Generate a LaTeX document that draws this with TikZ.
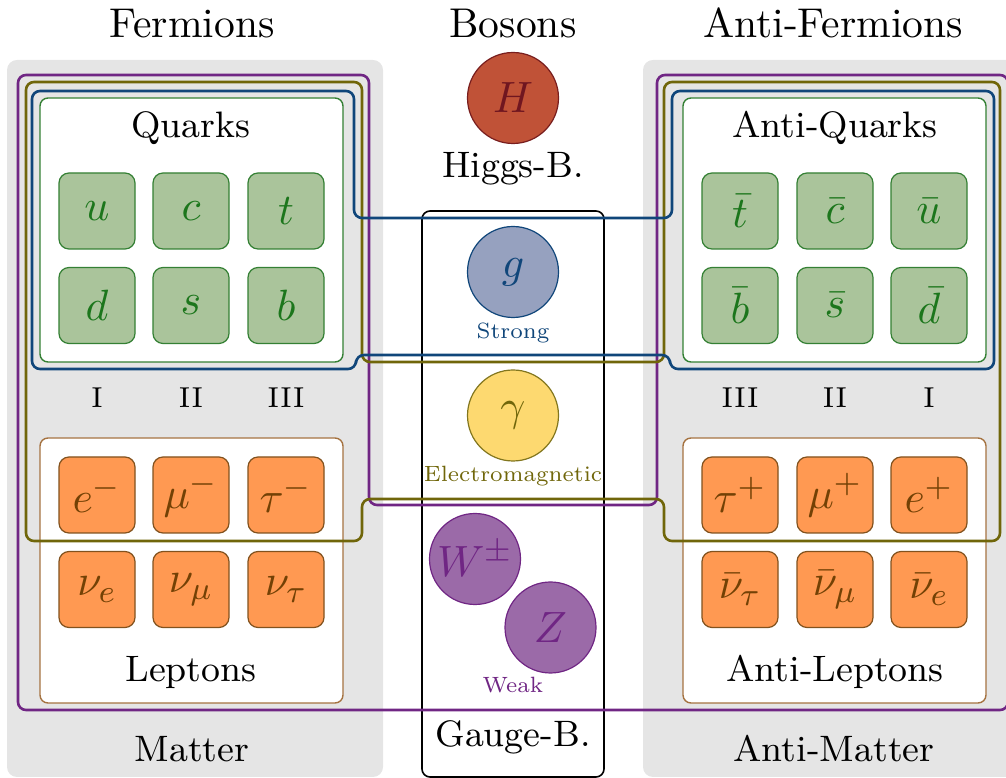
\documentclass[tikz,border=0pt]{standalone}
\usepackage{fontspec}

\definecolor{panelgray}{RGB}{229,229,229}
\definecolor{quarkfill}{RGB}{170,196,155}
\definecolor{quarkline}{RGB}{52,128,52}
\definecolor{quarktext}{RGB}{28,118,28}
\definecolor{leptonfill}{RGB}{255,153,82}
\definecolor{leptonline}{RGB}{130,82,30}
\definecolor{leptontext}{RGB}{115,65,5}
\definecolor{leptonframe}{RGB}{165,115,65}
\definecolor{higgsfill}{RGB}{192,82,55}
\definecolor{higgsline}{RGB}{120,30,30}
\definecolor{higgstext}{RGB}{112,22,32}
\definecolor{strongfill}{RGB}{150,161,191}
\definecolor{strongcol}{RGB}{16,70,122}
\definecolor{emfill}{RGB}{253,217,112}
\definecolor{emline}{RGB}{130,118,30}
\definecolor{emcol}{RGB}{112,102,10}
\definecolor{weakfill}{RGB}{155,106,168}
\definecolor{weakcol}{RGB}{112,38,132}

\tikzset{
  panel/.style={fill=panelgray, rounded corners=2.5pt},
  groupbox/.style={fill=white, rounded corners=2pt, line width=0.35pt},
  quarkgroup/.style={groupbox, draw=quarkline},
  leptongroup/.style={groupbox, draw=leptonframe},
  gaugegroup/.style={rounded corners=2pt, line width=0.4pt, draw=black},
  particle/.style={rectangle, rounded corners=2.5pt, minimum size=19pt,
    inner sep=0pt, line width=0.3pt, font=\fontsize{11}{13}\selectfont},
  quark/.style={particle, fill=quarkfill, draw=quarkline, text=quarktext},
  lepton/.style={particle, fill=leptonfill, draw=leptonline, text=leptontext},
  boson/.style={circle, minimum size=22.75pt, inner sep=0pt, line width=0.3pt,
    font=\fontsize{11}{13}\selectfont},
  headtxt/.style={anchor=base, inner sep=0pt, font=\fontsize{10.4}{12}\selectfont},
  grouptxt/.style={anchor=base, inner sep=0pt, font=\fontsize{9.2}{11}\selectfont},
  gentxt/.style={anchor=base, inner sep=0pt, font=\fontsize{7.2}{9}\selectfont},
  forcetxt/.style={anchor=base, inner sep=0pt, scale=0.79, font=\fontsize{7}{8}\selectfont},
  bandline/.style={line width=0.65pt, rounded corners=2pt},
}

\begin{document}
\begin{tikzpicture}[x=0.25pt, y=-0.25pt]
\useasboundingbox (0,0) rectangle (1006,778);

% grey background panels
\fill[panel] (7,60) rectangle (383,777);
\fill[panel] (643,60) rectangle (1019,777);

% column headings
\node[headtxt] (fermions) at (192,38) {Fermions};
\node[headtxt] (bosons) at (513,38) {Bosons};
\node[headtxt] (antifermions) at (833,38) {Anti-Fermions};

% group boxes
\draw[quarkgroup] (40,98) rectangle (343,362);
\draw[quarkgroup] (683,98) rectangle (986,362);
\draw[leptongroup] (40,438) rectangle (343,703);
\draw[leptongroup] (683,438) rectangle (986,703);
\draw[gaugegroup] (422,211) rectangle (604,777);

% group names
\node[grouptxt] (quarks) at (191,138) {Quarks};
\node[grouptxt] (antiquarks) at (835,138) {Anti-Quarks};
\node[grouptxt] (leptons) at (191,682) {Leptons};
\node[grouptxt] (antileptons) at (835,682) {Anti-Leptons};
\node[grouptxt] (matter) at (192,761) {Matter};
\node[grouptxt] (antimatter) at (834,761) {Anti-Matter};
\node[grouptxt] (higgsname) at (513,178) {Higgs-B.};
\node[grouptxt] (gaugename) at (513,747) {Gauge-B.};

% generations
\node[gentxt] (g1) at (97,408) {I};
\node[gentxt] (g2) at (191,408) {II};
\node[gentxt] (g3) at (286,408) {III};
\node[gentxt] (ag3) at (740,408) {III};
\node[gentxt] (ag2) at (835,408) {II};
\node[gentxt] (ag1) at (929,408) {I};

% quarks
\node[quark] (u) at (97,211) {$u$};
\node[quark] (c) at (191,211) {$c$};
\node[quark] (t) at (286,211) {$t$};
\node[quark] (d) at (97,305.5) {$d$};
\node[quark] (s) at (191,305.5) {$s$};
\node[quark] (b) at (286,305.5) {$b$};
% anti-quarks
\node[quark] (tbar) at (740,211) {$\bar t$};
\node[quark] (cbar) at (835,211) {$\bar c$};
\node[quark] (ubar) at (929,211) {$\bar u$};
\node[quark] (bbar) at (740,305.5) {$\bar b$};
\node[quark] (sbar) at (835,305.5) {$\bar s$};
\node[quark] (dbar) at (929,305.5) {$\bar d$};

% leptons
\node[lepton] (e) at (97,495) {$e^-$};
\node[lepton] (mu) at (191,495) {$\mu^-$};
\node[lepton] (tau) at (286,495) {$\tau^-$};
\node[lepton] (nue) at (97,589.5) {$\nu_e$};
\node[lepton] (numu) at (191,589.5) {$\nu_\mu$};
\node[lepton] (nutau) at (286,589.5) {$\nu_\tau$};
% anti-leptons
\node[lepton] (taubar) at (740,495) {$\tau^+$};
\node[lepton] (mubar) at (835,495) {$\mu^+$};
\node[lepton] (ebar) at (929,495) {$e^+$};
\node[lepton] (nutaubar) at (740,589.5) {$\bar\nu_\tau$};
\node[lepton] (numubar) at (835,589.5) {$\bar\nu_\mu$};
\node[lepton] (nuebar) at (929,589.5) {$\bar\nu_e$};

% bosons
\node[boson, fill=higgsfill, draw=higgsline, text=higgstext] (H) at (513,98) {$H$};
\node[boson, fill=strongfill, draw=strongcol, text=strongcol] (g) at (513,272) {$g$};
\node[boson, fill=emfill, draw=emline, text=emcol] (gamma) at (513,415.5) {$\gamma$};
\node[boson, fill=weakfill, draw=weakcol, text=weakcol] (W) at (475,559) {$W^\pm$};
\node[boson, fill=weakfill, draw=weakcol, text=weakcol] (Z) at (550.5,627.5) {$Z$};

% interaction names
\node[forcetxt, text=strongcol] (strong) at (513,339) {Strong};
\node[forcetxt, text=emcol] (em) at (513,482) {Electromagnetic};
\node[forcetxt, text=weakcol] (weak) at (513,693) {Weak};

% interaction bands
\draw[bandline, draw=weakcol]
  (18,75) -- (369,75) -- (369,505) -- (657,505) -- (657,75)
  -- (1008,75) -- (1008,710) -- (18,710) -- cycle;
\draw[bandline, draw=emcol]
  (26,82) -- (362,82) -- (362,362) -- (664,362) -- (664,82)
  -- (1000,82) -- (1000,541) -- (664,541) -- (664,499)
  -- (362,499) -- (362,541) -- (26,541) -- cycle;
\draw[bandline, draw=strongcol]
  (32,91) -- (354,91) -- (354,218) -- (672,218) -- (672,91)
  -- (994,91) -- (994,369) -- (670,369) -- (670,355)
  -- (356,355) -- (356,369) -- (32,369) -- cycle;
\end{tikzpicture}
\end{document}
